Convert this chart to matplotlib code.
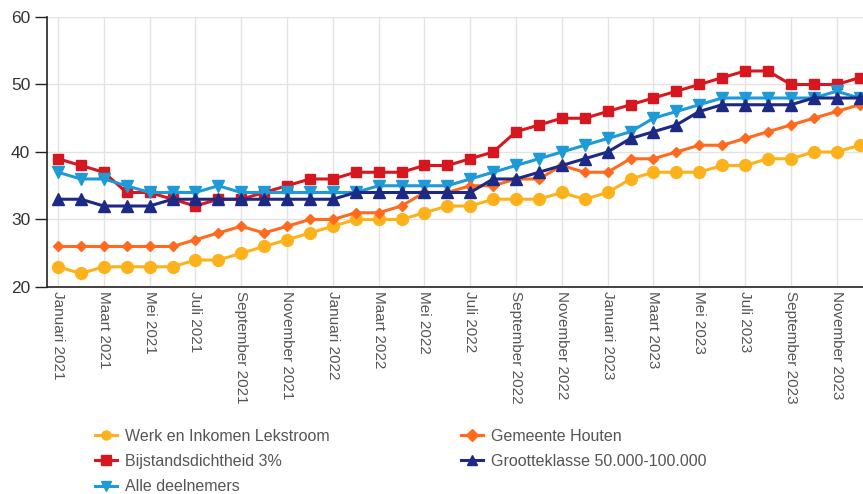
import matplotlib
matplotlib.use("Agg")
import matplotlib.pyplot as plt
import numpy as np

plt.rcParams['font.family'] = ['Liberation Sans', 'DejaVu Sans']

months_nl = ["Januari", "Februari", "Maart", "April", "Mei", "Juni", "Juli",
             "Augustus", "September", "Oktober", "November", "December"]
years = [2021, 2022, 2023]
periods = [f"{m} {y}" for y in years for m in months_nl]

werk = [23, 22, 23, 23, 23, 23, 24, 24, 25, 26, 27, 28,
        29, 30, 30, 30, 31, 32, 32, 33, 33, 33, 34, 33,
        34, 36, 37, 37, 37, 38, 38, 39, 39, 40, 40, 41]
bijstand = [39, 38, 37, 34, 34, 33, 32, 33, 33, 34, 35, 36,
            36, 37, 37, 37, 38, 38, 39, 40, 43, 44, 45, 45,
            46, 47, 48, 49, 50, 51, 52, 52, 50, 50, 50, 51]
alle = [37, 36, 36, 35, 34, 34, 34, 35, 34, 34, 34, 34,
        34, 34, 35, 35, 35, 35, 36, 37, 38, 39, 40, 41,
        42, 43, 45, 46, 47, 48, 48, 48, 48, 48, 49, 48]
houten = [26, 26, 26, 26, 26, 26, 27, 28, 29, 28, 29, 30,
          30, 31, 31, 32, 34, 34, 35, 35, 36, 36, 38, 37,
          37, 39, 39, 40, 41, 41, 42, 43, 44, 45, 46, 47]
groot = [33, 33, 32, 32, 32, 33, 33, 33, 33, 33, 33, 33,
         33, 34, 34, 34, 34, 34, 34, 36, 36, 37, 38, 39,
         40, 42, 43, 44, 46, 47, 47, 47, 47, 48, 48, 48]

series = [
    ("Werk en Inkomen Lekstroom", werk, "#FDB21B", "o", 8.5),
    ("Bijstandsdichtheid 3%", bijstand, "#D7171F", "s", 7.5),
    ("Alle deelnemers", alle, "#1E9AD6", "v", 8.5),
    ("Gemeente Houten", houten, "#FF6A1F", "D", 5.5),
    ("Grootteklasse 50.000-100.000", groot, "#1C2A86", "^", 8.5),
]

fig = plt.figure(figsize=(8.63, 4.94), dpi=100)
ax = fig.add_axes([47/863, 1-287/494, 1-47/863, 270/494])

x = np.arange(len(periods))
handles = []
for name, vals, col, mk, ms in series:
    h, = ax.plot(x, vals, color=col, marker=mk, markersize=ms, linewidth=2.2,
                 label=name, clip_on=False, zorder=3)
    handles.append(h)

ax.set_xlim(-11/22.9, 35 + 3.5/22.9)
ax.set_ylim(20, 60)
ax.set_yticks([20, 30, 40, 50, 60])
ax.set_xticks(x[::2])
ax.set_xticklabels(periods[::2], rotation=-90, ha='center', va='top',
                   fontsize=11, color='#555555')
ax.tick_params(axis='x', length=0, pad=3)
ax.tick_params(axis='y', length=9, width=1, colors='#222222', labelsize=12.5,
               labelcolor='#333333', pad=3)
ax.grid(True, color='#e3e3e3', linewidth=1, zorder=0)
ax.set_axisbelow(True)
for s in ['top', 'right']:
    ax.spines[s].set_visible(False)
ax.spines['left'].set_color('#222222')
ax.spines['bottom'].set_color('#222222')
ax.spines['left'].set_linewidth(1.2)
ax.spines['bottom'].set_linewidth(1.2)

leg = fig.legend(handles=handles, loc='upper left', ncol=2,
                 bbox_to_anchor=(95/863, 1-428.5/494), frameon=False,
                 fontsize=11.5, handlelength=1.4, handletextpad=0.5,
                 columnspacing=8.2, labelspacing=0.65, borderaxespad=0,
                 borderpad=0)
for t in leg.get_texts():
    t.set_color('#555555')
for lh in leg.legend_handles:
    lh.set_markersize(6.5)

fig.savefig("out.png", dpi=100)
